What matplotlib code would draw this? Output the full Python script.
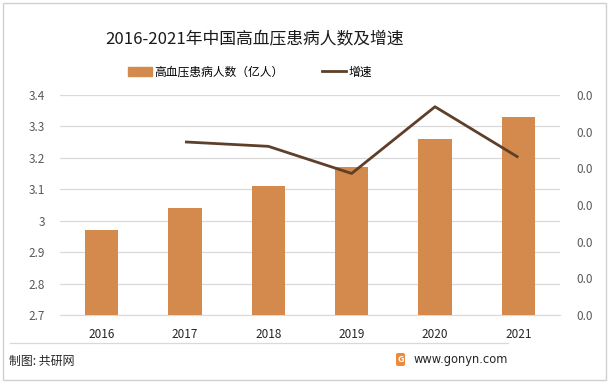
import matplotlib
matplotlib.use("Agg")
import matplotlib.pyplot as plt
from matplotlib.patches import Rectangle, FancyBboxPatch
from matplotlib.lines import Line2D
from matplotlib.ticker import FuncFormatter

plt.rcParams['font.family'] = ['Noto Sans CJK SC', 'DejaVu Sans']

years = ["2016", "2017", "2018", "2019", "2020", "2021"]
patients = [2.97, 3.04, 3.11, 3.17, 3.26, 3.33]
growth_years = ["2017", "2018", "2019", "2020", "2021"]
growth = [0.0236, 0.0230, 0.0193, 0.0284, 0.0215]
left_ticks = [2.7, 2.8, 2.9, 3.0, 3.1, 3.2, 3.3, 3.4]
right_ticks = [0.0, 0.005, 0.010, 0.015, 0.020, 0.025, 0.030]

title = "2016-2021年中国高血压患病人数及增速"
bar_label = "高血压患病人数（亿人）"
line_label = "增速"
source = "制图: 共研网"
site = "www.gonyn.com"

bar_color = "#D38A4C"
line_color = "#5E3F2A"
grid_color = "#D9D9D9"
tick_color = "#595959"

fig = plt.figure(figsize=(6.12, 3.84), dpi=100)
fig.patch.set_facecolor("white")

# outer border
fig.add_artist(Rectangle((3/612, 4/384), 603/612, 377/384, transform=fig.transFigure,
                         fill=False, edgecolor="#D0D0D0", linewidth=1.0))
# footer separator
fig.add_artist(Line2D([10/612, 508/612], [1-343/384, 1-343/384], transform=fig.transFigure,
                      color="#D9D9D9", linewidth=0.9))

ax = fig.add_axes([60/612, 1-315/384, 500/612, 220/384])
x = list(range(len(years)))
ax.bar(x, [p - 2.7 for p in patients], bottom=2.7, width=0.4, color=bar_color, zorder=3)
ax.set_ylim(2.7, 3.4)
ax.set_xlim(-0.5, len(years) - 0.5)
ax.set_yticks(left_ticks)
ax.yaxis.set_major_formatter(FuncFormatter(lambda v, p: f"{v:g}"))
ax.set_xticks(x)
ax.set_xticklabels(years)
ax.grid(axis="y", color=grid_color, linewidth=0.9, zorder=0)
ax.set_axisbelow(True)
for s in ax.spines.values():
    s.set_visible(False)
ax.spines["bottom"].set_visible(True)
ax.spines["bottom"].set_color(grid_color)
ax.tick_params(axis="y", length=0, labelsize=8.5, labelcolor=tick_color, pad=11)
ax.tick_params(axis="x", length=0, labelsize=8.5, labelcolor="#262626", pad=9)

ax2 = ax.twinx()
gx = [years.index(y) for y in growth_years]
ax2.plot(gx, growth, color=line_color, linewidth=2.0, zorder=4, solid_capstyle="butt")
ax2.set_ylim(0, 0.03)
ax2.set_yticks(right_ticks)
ax2.yaxis.set_major_formatter(FuncFormatter(lambda v, p: f"{v:.1f}"))
for s in ax2.spines.values():
    s.set_visible(False)
ax2.tick_params(axis="y", length=0, labelsize=8.5, labelcolor=tick_color, pad=12)

fig.text(255/612, 1-40/384, title, ha="center", va="center", fontsize=12.1, color="#1a1a1a")

# legend
handles = [Rectangle((0, 0), 1, 1, color=bar_color),
           Line2D([0], [0], color=line_color, linewidth=2.0)]
fig.legend(handles, [bar_label, line_label], loc="center", bbox_to_anchor=(250/612, 1-72/384),
           ncol=2, frameon=False, fontsize=8.5, handlelength=2.0, handleheight=0.7,
           handletextpad=0.2, columnspacing=3.3)

fig.text(9/612, 1-361/384, source, ha="left", va="center", fontsize=8.6, color="#262626")
fig.add_artist(FancyBboxPatch((396/612, 1-366/384), 9/612, 13/384, transform=fig.transFigure,
                              boxstyle="round,pad=0,rounding_size=0.004",
                              facecolor="#EE8A3C", edgecolor="none"))
fig.text(400.5/612, 1-359.5/384, "G", ha="center", va="center", fontsize=6.5,
         color="white", fontweight="bold")
fig.text(414/612, 1-359/384, site, ha="left", va="center", fontsize=8.3, color="#262626",
         family=["DejaVu Sans"])

fig.savefig("out.png", dpi=100)
